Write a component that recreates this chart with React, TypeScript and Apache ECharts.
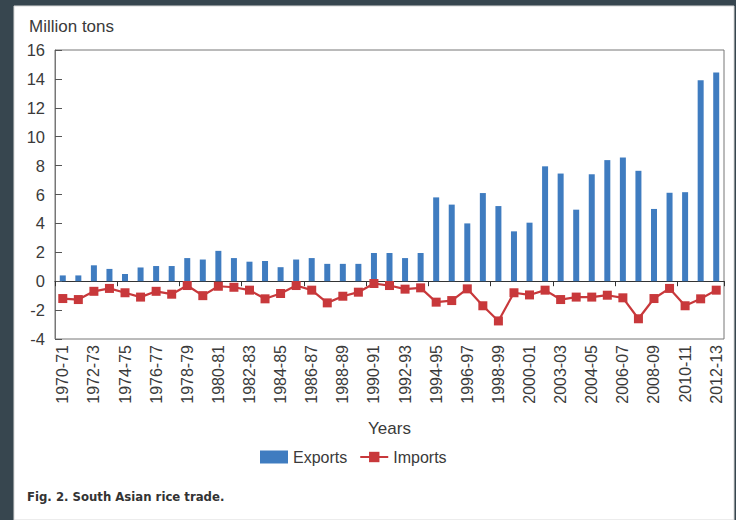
import React, { useEffect, useRef } from "react";
import * as echarts from "echarts";

const categories = [
  "1970-71", "1971-72", "1972-73", "1973-74", "1974-75", "1975-76", "1976-77", "1977-78",
  "1978-79", "1979-80", "1980-81", "1981-82", "1982-83", "1983-84", "1984-85", "1985-86",
  "1986-87", "1987-88", "1988-89", "1989-90", "1990-91", "1991-92", "1992-93", "1993-94",
  "1994-95", "1995-96", "1996-97", "1997-98", "1998-99", "1999-00", "2000-01", "2001-02",
  "2003-03", "2003-04", "2004-05", "2005-06", "2006-07", "2007-08", "2008-09", "2009-10",
  "2010-11", "2011-12", "2012-13",
];

const exportsValues = [
  0.4, 0.4, 1.1, 0.85, 0.5, 0.95, 1.05, 1.05, 1.6, 1.5, 2.1,
  1.6, 1.35, 1.4, 0.97, 1.5, 1.6, 1.2, 1.2, 1.2, 1.95, 1.95,
  1.6, 1.95, 5.8, 5.3, 4.0, 6.1, 5.2, 3.45, 4.05, 7.95, 7.45,
  4.95, 7.4, 8.38, 8.56, 7.64, 5.0, 6.12, 6.16, 13.9, 14.45,
];

const importsValues = [
  -1.2, -1.27, -0.7, -0.5, -0.8, -1.1, -0.7, -0.9, -0.3, -1.0, -0.35,
  -0.42, -0.62, -1.22, -0.85, -0.3, -0.62, -1.5, -1.04, -0.76, -0.16, -0.3,
  -0.55, -0.46, -1.45, -1.34, -0.53, -1.7, -2.75, -0.8, -0.95, -0.62, -1.27,
  -1.1, -1.1, -0.97, -1.15, -2.6, -1.2, -0.5, -1.7, -1.22, -0.62,
];

const yMin = -4;
const yMax = 16;
const yStep = 2;

const BLUE = "#3f7cc0";
const RED = "#c8383b";
const TXT = "#3a3a3a";
const FONT = "Liberation Sans, Arial, sans-serif";

export default function App() {
  const ref = useRef<HTMLDivElement>(null);

  useEffect(() => {
    if (!ref.current) return;
    const chart = echarts.init(ref.current, null, { renderer: "svg" });
    chart.setOption({
      animation: false,
      backgroundColor: "#37464f",
      textStyle: { fontFamily: FONT },
      graphic: [
        {
          type: "rect",
          z: -10,
          silent: true,
          shape: { x: 14, y: 6, width: 736 - 14 - 2, height: 520 - 6 },
          style: { fill: "#ffffff", stroke: "#d8d8d8", lineWidth: 1 },
        },
        {
          type: "text",
          left: 27,
          top: 490,
          style: {
            text: "Fig. 2. South Asian rice trade.",
            fontFamily: "Liberation Sans Narrow, DejaVu Sans Condensed, sans-serif",
            fontWeight: "bold",
            fontSize: 13,
            fill: "#333333",
          },
        },
      ],
      title: {
        text: "Million tons",
        left: 24,
        top: 13,
        textStyle: { fontSize: 17, fontWeight: "normal", color: TXT, fontFamily: FONT },
      },
      legend: {
        bottom: 50,
        left: 255,
        itemWidth: 28,
        itemHeight: 13,
        itemGap: 12,
        textStyle: { fontSize: 16, color: TXT, fontFamily: FONT },
        data: [
          { name: "Exports", icon: "rect" },
          { name: "Imports" },
        ],
      },
      grid: {
        left: 55,
        right: 12,
        top: 50,
        bottom: 181,
        show: true,
        borderColor: "#777777",
        borderWidth: 1,
        backgroundColor: "transparent",
      },
      xAxis: [
        {
          type: "category",
          data: categories,
          boundaryGap: true,
          axisLine: { show: true, onZero: true, lineStyle: { color: "#333333", width: 1 } },
          axisTick: { show: true, length: 5, inside: false, alignWithLabel: false, lineStyle: { color: "#333333" } },
          axisLabel: { show: false },
          splitLine: { show: false },
        },
        {
          type: "category",
          data: categories,
          position: "bottom",
          boundaryGap: true,
          axisLine: { show: false, onZero: false },
          axisTick: { show: false },
          axisLabel: {
            show: true,
            interval: 1,
            rotate: 90,
            margin: 6,
            fontSize: 16,
            color: TXT,
            fontFamily: FONT,
          },
          name: "Years",
          nameLocation: "middle",
          nameGap: 81,
          nameTextStyle: { fontSize: 17, color: TXT, fontFamily: FONT },
        },
      ],
      yAxis: {
        type: "value",
        min: yMin,
        max: yMax,
        interval: yStep,
        axisLine: { show: true, lineStyle: { color: "#777777" } },
        axisTick: { show: true, inside: true, length: 7, lineStyle: { color: "#555555" } },
        axisLabel: { fontSize: 16.5, color: TXT, margin: 10, fontFamily: FONT },
        splitLine: { show: false },
      },
      series: [
        {
          name: "Exports",
          type: "bar",
          xAxisIndex: 0,
          data: exportsValues,
          barWidth: 6,
          itemStyle: { color: BLUE },
        },
        {
          name: "Imports",
          type: "line",
          xAxisIndex: 0,
          data: importsValues,
          symbol: "rect",
          symbolSize: 9,
          lineStyle: { color: RED, width: 2.2 },
          itemStyle: { color: RED },
          z: 5,
        },
      ],
    });
    return () => chart.dispose();
  }, []);

  return (
    <div
      ref={ref}
      style={{ position: "fixed", left: 0, top: 0, width: 736, height: 520 }}
    />
  );
}
